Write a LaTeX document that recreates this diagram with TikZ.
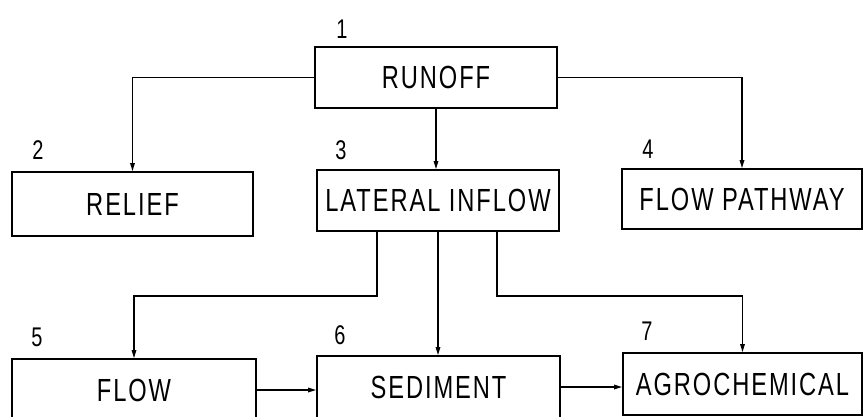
\documentclass[tikz,border=0pt]{standalone}
\usepackage{fontspec}
\setmainfont[FakeStretch=0.74,LetterSpace=6]{Liberation Sans}
\usetikzlibrary{arrows.meta,calc}
\begin{document}
\begin{tikzpicture}[x=1pt,y=-1pt,
  box/.style={draw,line width=1.7pt,inner sep=0pt,font=\fontsize{32}{36}\selectfont},
  num/.style={font=\fontsize{27}{30}\selectfont,inner sep=0pt},
  arr/.style={line width=1.5pt,-{Triangle[length=8pt,width=4.5pt]}}]
  \useasboundingbox (0,0) rectangle (863,416);
  \clip (0,0) rectangle (863,416);
  \fill[white] (0,0) rectangle (863,416);

  % boxes
  \node[box,minimum width=242pt,minimum height=61pt] (runoff) at (436,77.5) {RUNOFF};
  \node[box,minimum width=241pt,minimum height=64pt] (relief) at (132.5,204) {RELIEF};
  \node[box,minimum width=242pt,minimum height=61pt] (lat) at (438,200.5) {LATERAL INFLOW};
  \node[box,minimum width=240pt,minimum height=60pt] (path) at (742,199) {FLOW PATHWAY};
  \node[box,minimum width=244pt,minimum height=62pt] (flow) at (134,390) {FLOW};
  \node[box,minimum width=243pt,minimum height=62pt] (sed) at (438.5,387) {SEDIMENT};
  \node[box,minimum width=239pt,minimum height=62pt] (agro) at (742.5,384) {AGROCHEMICAL};

  % box numbers
  \node[num] (n1) at (342,29) {1};
  \node[num] (n2) at (38,150) {2};
  \node[num] (n3) at (341,150) {3};
  \node[num] (n4) at (648,149) {4};
  \node[num] (n5) at (37,337) {5};
  \node[num] (n6) at (340,335) {6};
  \node[num] (n7) at (647,331) {7};

  % runoff branches
  \draw[arr] (runoff.west) -| (relief.north);
  \draw[arr] (runoff.east) -| (path.north);
  \draw[arr] (runoff.south) -- (runoff.south |- lat.north);

  % lateral inflow branches
  \coordinate (jl) at (377,296);
  \coordinate (jr) at (497,296);
  \draw[arr] (lat.south -| jl) -- (jl) -| (flow.north);
  \draw[arr] (lat.south) -- (lat.south |- sed.north);
  \draw[arr] (lat.south -| jr) -- (jr) -| (agro.north);

  % bottom chain
  \draw[arr] (flow.east) -- (flow.east -| sed.west);
  \draw[arr] (sed.east) -- (sed.east -| agro.west);
\end{tikzpicture}
\end{document}
